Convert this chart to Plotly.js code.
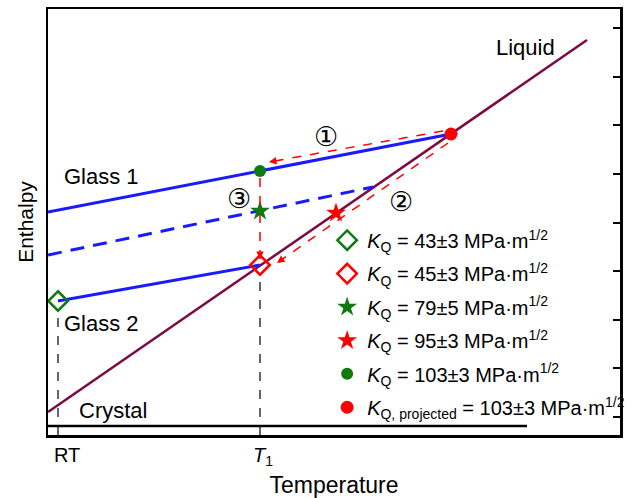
<!DOCTYPE html>
<html>
<head>
<meta charset="utf-8">
<script src="https://cdn.plot.ly/plotly-3.0.1.min.js"></script>
<style>html,body{margin:0;padding:0;background:#fff;}#chart{width:633px;height:498px;}</style>
</head>
<body>
<div id="chart"></div>
<script>
// Schematic units (arbitrary): temperature 0..572, enthalpy 0..426
var RT = 10, T1 = 212;
var liquidT = [0, 539], liquidH = [23, 395];
var glass1T = [0, 212, 403], glass1H = [223, 264, 301];
var glassDashT = [0, 325], glassDashH = [180, 248];
var glass2T = [10, 212], glass2H = [134, 170];
var crystalT = [0, 479], crystalH = [9, 9];
var rtLineH = [0, 125], t1LineH = [0, 162];

var pointNames = [
  '<i>K</i><sub>Q</sub> = 43±3 MPa·m<sup>1/2</sup>',
  '<i>K</i><sub>Q</sub> = 45±3 MPa·m<sup>1/2</sup>',
  '<i>K</i><sub>Q</sub> = 79±5 MPa·m<sup>1/2</sup>',
  '<i>K</i><sub>Q</sub> = 95±3 MPa·m<sup>1/2</sup>',
  '<i>K</i><sub>Q</sub> = 103±3 MPa·m<sup>1/2</sup>',
  '<i>K</i><sub>Q, projected</sub> = 103±3 MPa·m<sup>1/2</sup>'
];
var pointT = [10, 212, 212, 288, 212, 403];
var pointH = [134, 170, 224, 222, 264, 301];

// red dashed arrows: [startT, startH, tipT, tipH]
var arrows = [
  [395, 304, 221, 273],
  [400, 292, 229, 172],
  [212, 257, 212, 176]
];
var stepLabels = ['\u2460', '\u2461', '\u2462'];
var stepT = [278, 353, 191], stepH = [299, 234, 237];

var GREEN = '#0f7a0f', RED = '#ff0000', BLUE = '#1a1aff', LIQ = '#7d0b43';
var pointStyles = [
  {symbol: 'diamond-open', color: GREEN, size: 15},
  {symbol: 'diamond-open', color: RED, size: 15},
  {symbol: 'star', color: GREEN, size: 15},
  {symbol: 'star', color: RED, size: 15},
  {symbol: 'circle', color: GREEN, size: 12},
  {symbol: 'circle', color: RED, size: 13}
];

var traces = [];
traces.push({x: [RT, RT], y: rtLineH, mode: 'lines', line: {color: '#000', width: 1.2, dash: 'dash'}, showlegend: false, hoverinfo: 'skip'});
traces.push({x: [T1, T1], y: t1LineH, mode: 'lines', line: {color: '#000', width: 1.2, dash: 'dash'}, showlegend: false, hoverinfo: 'skip'});
traces.push({x: crystalT, y: crystalH, yaxis: 'y2', mode: 'lines', line: {color: '#000', width: 2.5}, showlegend: false, hoverinfo: 'skip'});
traces.push({x: liquidT, y: liquidH, mode: 'lines', line: {color: LIQ, width: 2.5}, showlegend: false});
traces.push({x: glass1T, y: glass1H, mode: 'lines', line: {color: BLUE, width: 3}, showlegend: false});
traces.push({x: glassDashT, y: glassDashH, mode: 'lines', line: {color: BLUE, width: 3, dash: '14px,9px'}, showlegend: false});
traces.push({x: glass2T, y: glass2H, mode: 'lines', line: {color: BLUE, width: 3}, showlegend: false});

var shapes = [];
var annotations = [];
arrows.forEach(function (a) {
  shapes.push({type: 'line', xref: 'x', yref: 'y', x0: a[0], y0: a[1], x1: a[2], y1: a[3],
    line: {color: RED, width: 1.5, dash: 'dash'}});
  var dx = a[0] - a[2], dy = a[1] - a[3], L = Math.sqrt(dx * dx + dy * dy);
  annotations.push({x: a[2], y: a[3], ax: a[2] + dx / L * 8, ay: a[3] + dy / L * 8,
    xref: 'x', yref: 'y', axref: 'x', ayref: 'y', text: '', showarrow: true,
    arrowhead: 2, arrowsize: 1, arrowwidth: 1.5, arrowcolor: RED, standoff: 0});
});

for (var i = 0; i < pointNames.length; i++) {
  var st = pointStyles[i];
  var isOpen = st.symbol.indexOf('open') >= 0;
  traces.push({x: [pointT[i]], y: [pointH[i]], mode: 'markers', name: pointNames[i],
    legendgroup: 'g' + i,
    marker: {symbol: st.symbol, size: st.size, color: st.color,
      line: {color: st.color, width: isOpen ? 2.5 : 0}}});
}

var labelFont = {family: 'Liberation Sans, Arial, sans-serif', size: 22, color: '#000'};
annotations.push({x: 477, y: 388, xref: 'x', yref: 'y', text: 'Liquid', showarrow: false, font: labelFont});
annotations.push({x: 14, y: 259, xref: 'x', yref: 'y', text: 'Glass 1', xanchor: 'left', showarrow: false, font: labelFont});
annotations.push({x: 14, y: 112, xref: 'x', yref: 'y', text: 'Glass 2', xanchor: 'left', showarrow: false, font: labelFont});
annotations.push({x: 29, y: 25, xref: 'x', yref: 'y', text: 'Crystal', xanchor: 'left', showarrow: false, font: labelFont});
for (var k = 0; k < stepLabels.length; k++) {
  annotations.push({x: stepT[k], y: stepH[k], xref: 'x', yref: 'y', text: stepLabels[k], showarrow: false,
    font: {family: 'DejaVu Sans, Noto Sans CJK SC, sans-serif', size: 27, color: '#000'}});
}
var tickFont = {family: 'Liberation Sans, Arial, sans-serif', size: 20, color: '#000'};
annotations.push({x: RT, y: 0, xref: 'x', yref: 'y', text: 'RT', showarrow: false, yanchor: 'top', yshift: -7, xshift: 9, font: tickFont});
annotations.push({x: T1, y: 0, xref: 'x', yref: 'y', text: '<i>T</i><sub>1</sub>', showarrow: false, yanchor: 'top', yshift: -7, xshift: 3, font: tickFont});

var layout = {
  width: 633, height: 498,
  margin: {l: 48, r: 13, t: 9, b: 63, autoexpand: false},
  paper_bgcolor: '#fff', plot_bgcolor: '#fff',
  showlegend: true,
  legend: {x: 0.488, y: 0.503, xanchor: 'left', yanchor: 'top', bgcolor: 'rgba(0,0,0,0)',
    tracegroupgap: 4.4, font: {family: 'Liberation Sans, Arial, sans-serif', size: 20, color: '#000'}},
  xaxis: {range: [0, 572], showgrid: false, zeroline: false, showline: true, mirror: true,
    linewidth: 2.5, linecolor: '#000', ticks: '', showticklabels: false,
    title: {text: 'Temperature', standoff: 42, font: {family: 'Liberation Sans, Arial, sans-serif', size: 23, color: '#000'}}},
  yaxis: {range: [0, 426], showgrid: false, zeroline: false, showline: true, mirror: true,
    linewidth: 2.5, linecolor: '#000', ticks: '', showticklabels: false,
    title: {text: 'Enthalpy', standoff: 6, font: {family: 'Liberation Sans, Arial, sans-serif', size: 21, color: '#000'}}},
  yaxis2: {range: [0, 426], overlaying: 'y', side: 'right', showgrid: false, zeroline: false, showline: false,
    ticks: 'inside', ticklen: 7, tickwidth: 2, tickcolor: '#000', tick0: 18, dtick: 48.6, showticklabels: false},
  shapes: shapes,
  annotations: annotations
};

Plotly.newPlot('chart', traces, layout, {displayModeBar: false, staticPlot: true});
</script>
</body>
</html>
